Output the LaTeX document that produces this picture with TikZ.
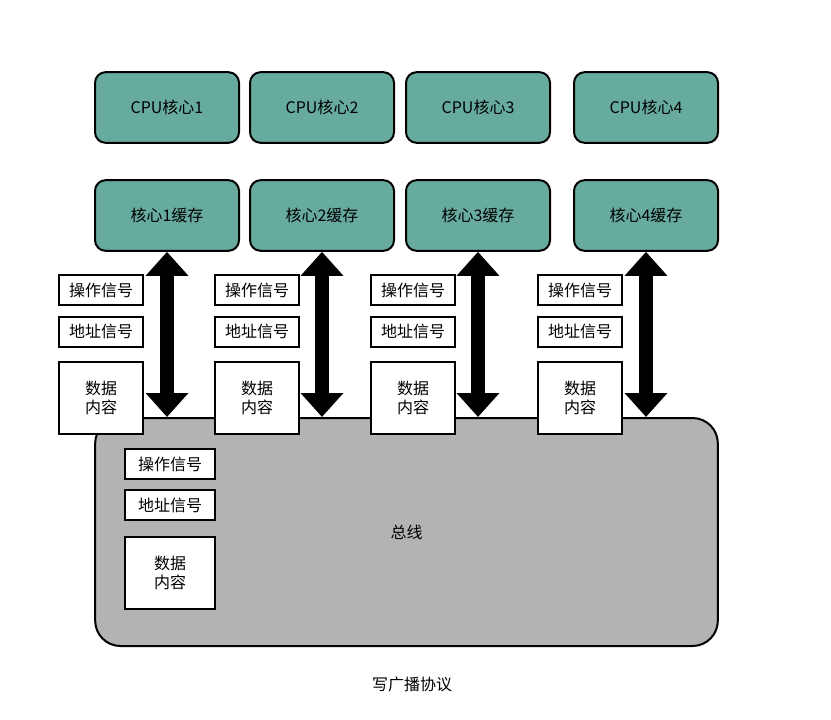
\documentclass[tikz,border=0pt]{standalone}
\usepackage{fontspec}
\setmainfont{Noto Sans CJK SC}
\usetikzlibrary{arrows.meta}
\definecolor{coreteal}{HTML}{67AB9F}
\definecolor{busgray}{HTML}{B3B3B3}
\begin{document}
\begin{tikzpicture}[x=0.75pt, y=-0.75pt, font=\fontsize{12}{14.5}\selectfont,
    core/.style={draw=black, line width=1.5pt, fill=coreteal, rounded corners=8pt,
      minimum width=108pt, minimum height=53pt, inner sep=0pt},
    sig/.style={draw=black, line width=1.5pt, fill=white, minimum width=63pt,
      minimum height=22.5pt, inner sep=0pt},
    datbox/.style={sig, minimum height=54pt, align=center},
    dbl/.style={line width=11pt, {Triangle[length=18pt, width=31pt]}-{Triangle[length=18pt, width=31pt]}}]
    \useasboundingbox (0,0) rectangle (831,719);

    % Bus
    \node[draw=black, line width=1.5pt, fill=busgray, rounded corners=19pt,
      minimum width=467pt, minimum height=171pt] (bus) at (406.5,532) {总线};

    % Cores and caches
    \foreach \i/\x in {1/167, 2/322, 3/478, 4/646} {
      \node[core] (cpu\i) at (\x,107.5) {CPU核心\i};
      \node[core] (cache\i) at (\x,215.5) {核心\i 缓存};
    }

    % Signals next to each cache
    \foreach \i/\x in {1/101, 2/257, 3/413, 4/580} {
      \node[sig] (op\i) at (\x,290) {操作信号};
      \node[sig] (addr\i) at (\x,331.5) {地址信号};
      \node[datbox] (data\i) at (\x,398) {数据\\内容};
    }

    % Signals on the bus
    \node[sig, minimum width=67.5pt] (opb) at (170,464) {操作信号};
    \node[sig, minimum width=67.5pt] (addrb) at (170,505) {地址信号};
    \node[datbox, minimum width=67.5pt] (datab) at (170,573) {数据\\内容};

    % Cache <-> bus
    \foreach \i in {1,...,4}
      \draw[dbl] (cache\i.south) -- (cache\i.south |- bus.north);

    \node (title) at (412,684) {写广播协议};
\end{tikzpicture}
\end{document}
